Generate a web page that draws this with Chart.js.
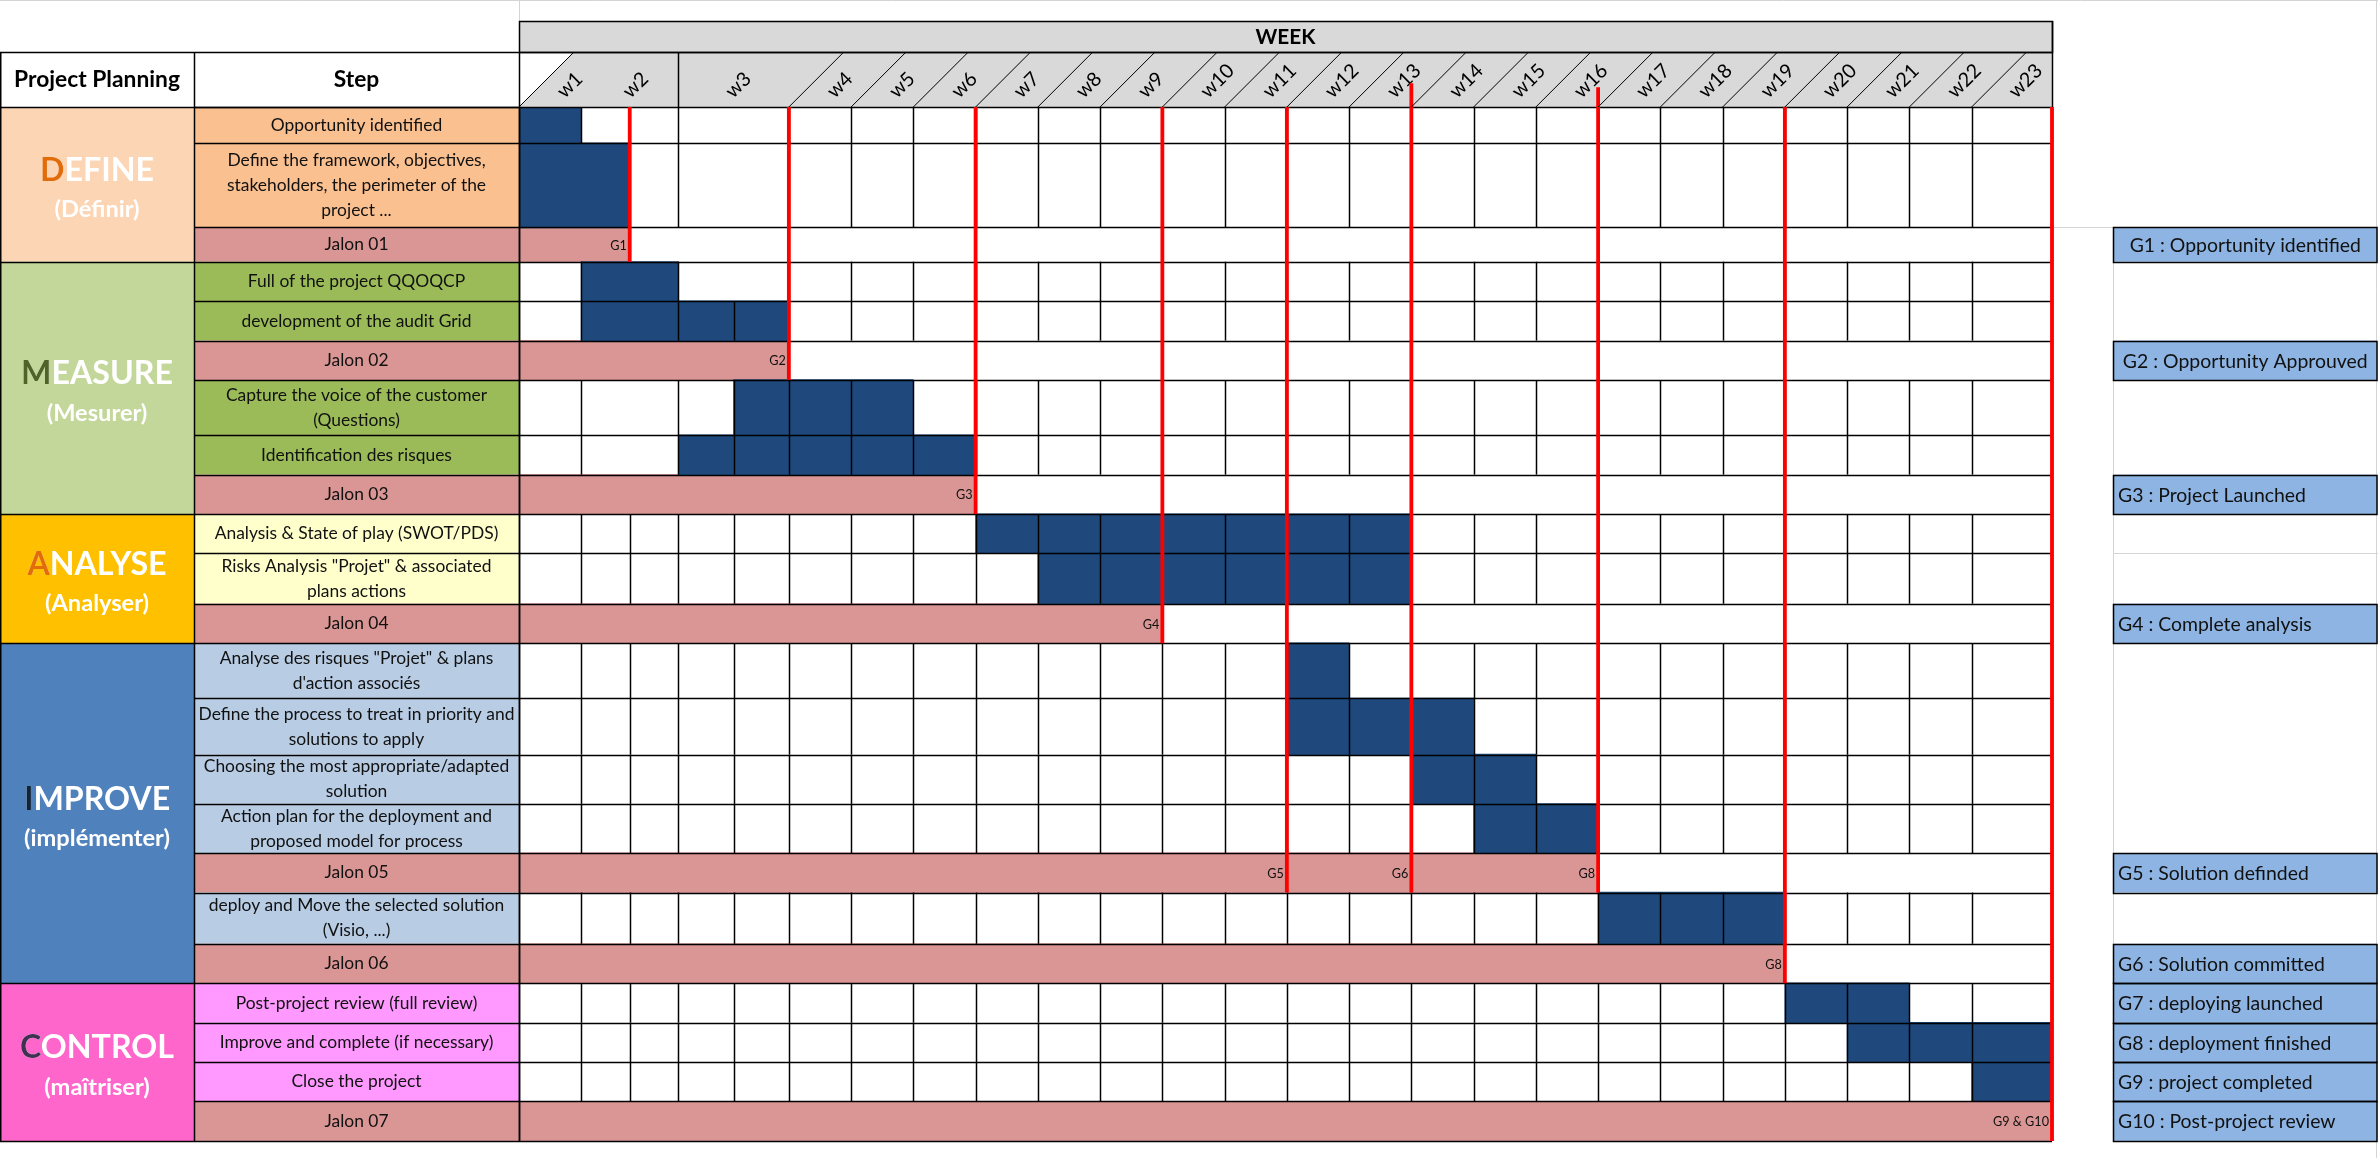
<!DOCTYPE html>
<html>
<head>
<meta charset="utf-8">
<title>Project Planning – DMAIC weekly plan</title>
<script src="https://cdn.jsdelivr.net/npm/chart.js@4.4.1/dist/chart.umd.min.js"></script>
<style>
  html, body { margin: 0; padding: 0; background: #ffffff; overflow: hidden; }
  #wrap { position: relative; width: 2378px; height: 1158px; }
  canvas { display: block; }
</style>
</head>
<body>
<div id="wrap"><canvas id="gantt" width="2378" height="1158"></canvas></div>
<script>
// ================= DATA =================
const weekLabels = ['w1','w2','w3','w4','w5','w6','w7','w8','w9','w10','w11','w12','w13','w14','w15','w16','w17','w18','w19','w20','w21','w22','w23'];
const phaseNames = ['DEFINE','MEASURE','ANALYSE','IMPROVE','CONTROL'];
const phaseSubtitles = ['(Définir)','(Mesurer)','(Analyser)','(implémenter)','(maîtriser)'];
const stepLabels = [
  'Opportunity identified',
  ['Define the framework, objectives,', 'stakeholders, the perimeter of the', 'project ...'],
  'Jalon 01',
  'Full of the project QQOQCP',
  'development of the audit Grid',
  'Jalon 02',
  ['Capture the voice of the customer', '(Questions)'],
  'Identification des risques',
  'Jalon 03',
  'Analysis & State of play (SWOT/PDS)',
  ['Risks Analysis "Projet" & associated', 'plans actions'],
  'Jalon 04',
  ['Analyse des risques "Projet" & plans', "d'action associés"],
  ['Define the process to treat in priority and', 'solutions to apply'],
  ['Choosing the most appropriate/adapted', 'solution'],
  ['Action plan for the deployment and', 'proposed model for process'],
  'Jalon 05',
  ['deploy and Move the selected solution', '(Visio, ...)'],
  'Jalon 06',
  'Post-project review (full review)',
  'Improve and complete (if necessary)',
  'Close the project',
  'Jalon 07'
];
const stepPhase = [0,0,0, 1,1,1,1,1,1, 2,2,2, 3,3,3,3,3,3,3, 4,4,4,4];
// planned activity per step, in weeks (0 = start of w1); null = milestone (Jalon) row
const taskStart = [0, 0,   null, 1, 1, null, 2.5, 2, null, 6,  7,  null, 11, 11, 13, 14, null, 16, null, 19, 20, 22, null];
const taskEnd   = [1, 1.5, null, 2, 3, null, 5,   6, null, 13, 13, null, 12, 14, 15, 16, null, 19, null, 21, 23, 23, null];
const jalonRows = [2, 5, 8, 11, 16, 18, 22];
const jalonEnd  = [1.5, 3, 6, 9, 16, 19, 23];
const milestoneWeek  = [1.5, 3, 6, 9, 11, 13, 16, 19, 23];
const milestoneTag   = ['G1','G2','G3','G4','G5','G6','G8','G8','G9 & G10'];
const milestoneJalon = [0, 1, 2, 3, 4, 4, 4, 5, 6];
const legendLabels = ['G1 : Opportunity identified','G2 : Opportunity Approuved','G3 : Project Launched','G4 : Complete analysis','G5 : Solution definded','G6 : Solution committed','G7 : deploying launched','G8 : deployment finished','G9 : project completed','G10 : Post-project review'];
const legendRow = [2, 5, 8, 11, 16, 18, 19, 20, 21, 22];

// ================= LAYOUT / STYLE =================
const FONT = 'Lato';
const rowHeights = [37,85,35,40,40,40,56,40,40,40,51,40,56,57,50,50,40,52,40,40,40,40,40];
const weekWidths = [62.2,97.1,110.6,62.26,62.26,62.26,62.26,62.26,62.26,62.26,62.26,62.26,62.26,62.26,62.26,62.26,62.26,62.26,62.26,62.26,62.26,62.26,80.4];
const weekLabelShift = [0,-14,-15,0,0,0,0,0,0,0,0,0,0,0,0,0,0,0,0,0,0,0,-10];
const headerSlants = [0,3,4,5,6,7,8,9,10,11,12,13,14,15,16,17,18,19,20,21,22];
const redLineTop = [0,0,0,0,0,-24,-20,0,0];
const split15Rows = [9,10,12,13,14,15,17,19,20,21];
const split25Rows = [4,6,7,9,10,12,13,14,15,17,19,20,21];
const noLineAt = [[1, 1]];
const legendCentered = [true, true, false, false, false, false, false, false, false, false];
const L = { headerTop: 52, weekTop: 21, slant: 55, phaseRight: 194, stepCenter: 356.5,
            legendLeft: 2113.5, legendRight: 2377, legendTextX: 2118, tagGap: 3 };
const COLORS = {
  task: '#1F497D', jalon: '#DA9694', red: '#FF0000', header: '#D9D9D9', legend: '#8DB4E2',
  line: '#000000', excel: '#D4D4D4', text: '#111111',
  phaseBg:   ['#FCD5B4', '#C4D79B', '#FFC000', '#4F81BD', '#FF66CC'],
  phaseStep: ['#FAC090', '#9BBB59', '#FFFFCC', '#B8CCE4', '#FF99FF'],
  phaseInitial: ['#E26B0A', '#4F6228', '#E26B0A', '#0F243E', '#403151']
};

// ================= HELPERS =================
const rowEdges = [0];
rowHeights.forEach(h => rowEdges.push(rowEdges[rowEdges.length - 1] + h));
const weekEdges = [0];
weekWidths.forEach(w => weekEdges.push(weekEdges[weekEdges.length - 1] + w));
const rowMid = r => (rowEdges[r] + rowEdges[r + 1]) / 2;
function wx(v) {
  const i = Math.max(0, Math.min(weekWidths.length - 1, Math.floor(v)));
  return weekEdges[i] + (v - i) * weekWidths[i];
}
const mctx = document.createElement('canvas').getContext('2d');
function textWidth(t, weight, size) { mctx.font = weight + ' ' + size + 'px ' + FONT; return mctx.measureText(t).width; }
function fitSize(t, weight, target) { return 100 * target / textWidth(t, weight, 100); }

const stepSize   = fitSize('Define the process to treat in priority and', 'normal', 316);
const legendSize = fitSize('G2 : Opportunity Approuved', 'normal', 245);
const phaseSize  = fitSize('MEASURE', 'bold', 152);
const subSize    = fitSize('(implémenter)', 'bold', 146);
const headSize   = fitSize('Project Planning', 'bold', 166);
const weekTSize  = fitSize('WEEK', 'bold', 60);
const tagSize    = fitSize('G9 & G10', 'normal', 56);
const weekLSize  = fitSize('w10', 'normal', 38.5);
let widest = 0;
stepLabels.forEach(l => [].concat(l).forEach(s => { widest = Math.max(widest, textWidth(s, 'normal', stepSize)); }));

const CANVAS_W = 2378, CANVAS_H = 1158;
const GRID = { left: 519, right: 2052, top: 107, bottom: 1156 };
const pxPerRowUnit = (GRID.bottom - GRID.top) / rowEdges[rowEdges.length - 1];
const stepPad = (GRID.left - L.stepCenter) - widest / 2;

function line(ctx, x0, y0, x1, y1) { ctx.beginPath(); ctx.moveTo(x0, y0); ctx.lineTo(x1, y1); ctx.stroke(); }
const snap = v => Math.round(v) + 0.5;

// ================= DATASETS =================
const datasets = [];
stepLabels.forEach((lab, r) => {
  if (taskStart[r] === null) return;
  datasets.push({
    type: 'bar', label: [].concat(lab).join(' '), stack: 'rows', order: 1,
    data: [{ x: [wx(taskStart[r]), wx(taskEnd[r])], y: rowMid(r) }],
    backgroundColor: COLORS.task, borderWidth: 0, barThickness: rowHeights[r] * pxPerRowUnit
  });
});
jalonRows.forEach((r, j) => {
  datasets.push({
    type: 'bar', label: stepLabels[r], stack: 'rows', order: 1,
    data: [{ x: [0, wx(jalonEnd[j])], y: rowMid(r) }],
    backgroundColor: COLORS.jalon, borderWidth: 0, barThickness: rowHeights[r] * pxPerRowUnit
  });
});
milestoneWeek.forEach((w, m) => {
  const r = jalonRows[milestoneJalon[m]];
  datasets.push({
    type: 'line', label: milestoneTag[m], order: 0, clip: false,
    data: [{ x: wx(w), y: redLineTop[m] }, { x: wx(w), y: rowEdges[r + 1] }],
    borderColor: COLORS.red, borderWidth: 3.8, pointRadius: 0, fill: false, tension: 0, borderCapStyle: 'butt'
  });
});

// ================= TABLE PLUGIN =================
function drawGrid(chart) {
  const ctx = chart.ctx, xs = chart.scales.x, ys = chart.scales.y, a = chart.chartArea;
  const X = w => snap(xs.getPixelForValue(wx(w)));
  const Y = u => ys.getPixelForValue(u);
  ctx.save();
  ctx.strokeStyle = COLORS.line; ctx.lineWidth = 1.5;
  rowEdges.forEach(e => line(ctx, a.left, snap(Y(e)), a.right, snap(Y(e))));
  stepLabels.forEach((_, r) => {
    const y0 = Y(rowEdges[r]), y1 = Y(rowEdges[r + 1]);
    let b = [];
    if (jalonRows.includes(r)) b = [0, weekLabels.length];
    else {
      for (let k = 0; k <= weekLabels.length; k++) b.push(k);
      if (split15Rows.includes(r)) b.push(1.5);
      if (split25Rows.includes(r)) b.push(2.5);
      noLineAt.forEach(([rr, w]) => { if (rr === r) b = b.filter(v => v !== w); });
    }
    b.forEach(v => line(ctx, X(v), y0, X(v), y1));
  });
  ctx.restore();
}

const tablePlugin = {
  id: 'planningTable',
  beforeDraw(chart) {
    chart.$gridDone = false;
    const ctx = chart.ctx, xs = chart.scales.x, ys = chart.scales.y, a = chart.chartArea;
    const X = w => xs.getPixelForValue(wx(w));
    const Y = u => ys.getPixelForValue(u);
    ctx.save();
    ctx.fillStyle = '#ffffff'; ctx.fillRect(0, 0, chart.width, chart.height);
    // faint worksheet gridlines
    ctx.strokeStyle = COLORS.excel; ctx.lineWidth = 1;
    line(ctx, 0, 0.5, chart.width, 0.5);
    line(ctx, a.left + 0.5, 0, a.left + 0.5, L.weekTop);
    line(ctx, chart.width - 1.5, 0, chart.width - 1.5, chart.height);
    line(ctx, a.right, snap(Y(rowEdges[legendRow[0]])), chart.width, snap(Y(rowEdges[legendRow[0]])));
    line(ctx, L.legendLeft, snap(Y(rowEdges[10])), chart.width, snap(Y(rowEdges[10])));
    line(ctx, L.legendLeft, Y(rowEdges[legendRow[0]]), L.legendLeft, a.bottom);
    // WEEK band + grey week header
    ctx.fillStyle = COLORS.header;
    ctx.fillRect(a.left, L.weekTop, a.right - a.left, L.headerTop - L.weekTop);
    ctx.beginPath();
    ctx.moveTo(X(0), a.top); ctx.lineTo(X(0) + L.slant, L.headerTop);
    ctx.lineTo(a.right, L.headerTop); ctx.lineTo(a.right, a.top); ctx.closePath(); ctx.fill();
    // phase column and step column fills
    phaseNames.forEach((_, p) => {
      const rows = stepPhase.map((v, i) => v === p ? i : -1).filter(i => i >= 0);
      const y0 = Y(rowEdges[rows[0]]), y1 = Y(rowEdges[rows[rows.length - 1] + 1]);
      ctx.fillStyle = COLORS.phaseBg[p]; ctx.fillRect(0, y0, L.phaseRight, y1 - y0);
    });
    stepLabels.forEach((_, r) => {
      const y0 = Y(rowEdges[r]), y1 = Y(rowEdges[r + 1]);
      ctx.fillStyle = jalonRows.includes(r) ? COLORS.jalon : COLORS.phaseStep[stepPhase[r]];
      ctx.fillRect(L.phaseRight, y0, a.left - L.phaseRight, y1 - y0);
    });
    // legend boxes
    legendLabels.forEach((_, i) => {
      const r = legendRow[i];
      const y0 = Y(rowEdges[r]), y1 = Y(rowEdges[r + 1]);
      ctx.fillStyle = COLORS.legend; ctx.fillRect(L.legendLeft, y0, L.legendRight - L.legendLeft, y1 - y0);
    });
    ctx.restore();
  },
  beforeDatasetDraw(chart, args) {
    if (args.meta.type === 'line' && !chart.$gridDone) { drawGrid(chart); chart.$gridDone = true; }
  },
  afterDatasetsDraw(chart) {
    if (!chart.$gridDone) { drawGrid(chart); chart.$gridDone = true; }
    const ctx = chart.ctx, xs = chart.scales.x, ys = chart.scales.y;
    ctx.save();
    ctx.fillStyle = COLORS.text; ctx.font = 'normal ' + tagSize + 'px ' + FONT;
    ctx.textAlign = 'right'; ctx.textBaseline = 'middle';
    milestoneWeek.forEach((w, m) => {
      const r = jalonRows[milestoneJalon[m]];
      ctx.fillText(milestoneTag[m], xs.getPixelForValue(wx(w)) - L.tagGap, ys.getPixelForValue(rowMid(r)) + 1);
    });
    ctx.restore();
  },
  afterDraw(chart) {
    const ctx = chart.ctx, xs = chart.scales.x, ys = chart.scales.y, a = chart.chartArea;
    const X = w => xs.getPixelForValue(wx(w));
    const Y = u => ys.getPixelForValue(u);
    ctx.save();
    ctx.strokeStyle = COLORS.line;
    // header lines
    ctx.lineWidth = 1.5;
    ctx.strokeRect(snap(a.left), snap(L.weekTop), Math.round(a.right - a.left), Math.round(L.headerTop - L.weekTop));
    line(ctx, 0, snap(L.headerTop), a.right, snap(L.headerTop));
    line(ctx, 0, snap(a.top), a.left, snap(a.top));
    line(ctx, snap(a.right), L.weekTop, snap(a.right), a.top);
    line(ctx, snap(X(2)), L.headerTop, snap(X(2)), a.top);
    ctx.lineWidth = 1;
    headerSlants.forEach(b => line(ctx, X(b), a.top, X(b) + L.slant, L.headerTop));
    // left table borders
    ctx.lineWidth = 1.5;
    [0.75, snap(L.phaseRight), snap(a.left)].forEach(x => line(ctx, x, L.headerTop, x, a.bottom));
    rowEdges.forEach(e => line(ctx, L.phaseRight, snap(Y(e)), a.left, snap(Y(e))));
    phaseNames.forEach((_, p) => {
      const last = stepPhase.lastIndexOf(p);
      line(ctx, 0, snap(Y(rowEdges[last + 1])), L.phaseRight, snap(Y(rowEdges[last + 1])));
    });
    // legend box borders
    legendLabels.forEach((_, i) => {
      const r = legendRow[i];
      const y0 = snap(Y(rowEdges[r])), y1 = snap(Y(rowEdges[r + 1]));
      ctx.strokeRect(L.legendLeft, y0, L.legendRight - L.legendLeft, y1 - y0);
    });
    // header texts
    ctx.fillStyle = '#000'; ctx.textAlign = 'center'; ctx.textBaseline = 'middle';
    ctx.font = 'bold ' + headSize + 'px ' + FONT;
    ctx.fillText('Project Planning', L.phaseRight / 2, 80);
    ctx.fillText('Step', L.stepCenter, 80);
    ctx.font = 'bold ' + weekTSize + 'px ' + FONT;
    ctx.fillText('WEEK', (a.left + a.right) / 2, (L.weekTop + L.headerTop) / 2 + 1);
    // phase labels
    phaseNames.forEach((name, p) => {
      const first = stepPhase.indexOf(p), last = stepPhase.lastIndexOf(p);
      const cy = (Y(rowEdges[first]) + Y(rowEdges[last + 1])) / 2;
      const cx = L.phaseRight / 2;
      ctx.font = 'bold ' + phaseSize + 'px ' + FONT;
      const w = ctx.measureText(name).width;
      ctx.textAlign = 'left';
      ctx.fillStyle = '#ffffff'; ctx.fillText(name, cx - w / 2, cy - 14);
      ctx.fillStyle = COLORS.phaseInitial[p]; ctx.fillText(name[0], cx - w / 2, cy - 14);
      ctx.textAlign = 'center'; ctx.fillStyle = '#ffffff';
      ctx.font = 'bold ' + subSize + 'px ' + FONT;
      ctx.fillText(phaseSubtitles[p], cx, cy + 25);
    });
    // legend texts
    ctx.fillStyle = COLORS.text; ctx.font = 'normal ' + legendSize + 'px ' + FONT;
    legendLabels.forEach((t, i) => {
      const r = legendRow[i];
      const cy = (Y(rowEdges[r]) + Y(rowEdges[r + 1])) / 2 + 1;
      if (legendCentered[i]) { ctx.textAlign = 'center'; ctx.fillText(t, (L.legendLeft + L.legendRight) / 2, cy); }
      else { ctx.textAlign = 'left'; ctx.fillText(t, L.legendTextX, cy); }
    });
    ctx.restore();
  }
};

// ================= CHART =================
Chart.defaults.font.family = FONT;
new Chart(document.getElementById('gantt'), {
  type: 'bar',
  data: { datasets },
  options: {
    indexAxis: 'y',
    responsive: false,
    animation: false,
    devicePixelRatio: 1,
    events: [],
    layout: { padding: { left: L.phaseRight, right: CANVAS_W - GRID.right, top: L.headerTop, bottom: CANVAS_H - GRID.bottom } },
    plugins: { legend: { display: false }, tooltip: { enabled: false }, title: { display: false } },
    scales: {
      x: {
        type: 'linear', position: 'top', min: 0, max: weekEdges[weekEdges.length - 1], offset: false, stacked: false,
        grid: { display: false, drawTicks: false }, border: { display: false },
        afterFit: s => { s.height = GRID.top - L.headerTop; },
        afterBuildTicks: s => { s.ticks = weekLabels.map((_, i) => ({ value: wx(i + 0.5) + weekLabelShift[i] })); },
        ticks: {
          autoSkip: false, maxTicksLimit: 100, sampleSize: 100, minRotation: 45, maxRotation: 45,
          padding: 4, labelOffset: 27, color: '#000',
          font: { family: FONT, size: weekLSize },
          callback: (v, i) => weekLabels[i]
        }
      },
      y: {
        type: 'linear', position: 'left', reverse: true, min: 0, max: rowEdges[rowEdges.length - 1], offset: false,
        grid: { display: false, drawTicks: false }, border: { display: false },
        afterFit: s => { s.width = GRID.left - L.phaseRight; },
        afterBuildTicks: s => { s.ticks = stepLabels.map((_, r) => ({ value: rowMid(r) })); },
        ticks: {
          autoSkip: false, maxTicksLimit: 100, sampleSize: 100, crossAlign: 'center', padding: stepPad, color: COLORS.text,
          font: { family: FONT, size: stepSize, lineHeight: '25px' },
          callback: (v, i) => stepLabels[i]
        }
      }
    }
  },
  plugins: [tablePlugin]
});
</script>
</body>
</html>
